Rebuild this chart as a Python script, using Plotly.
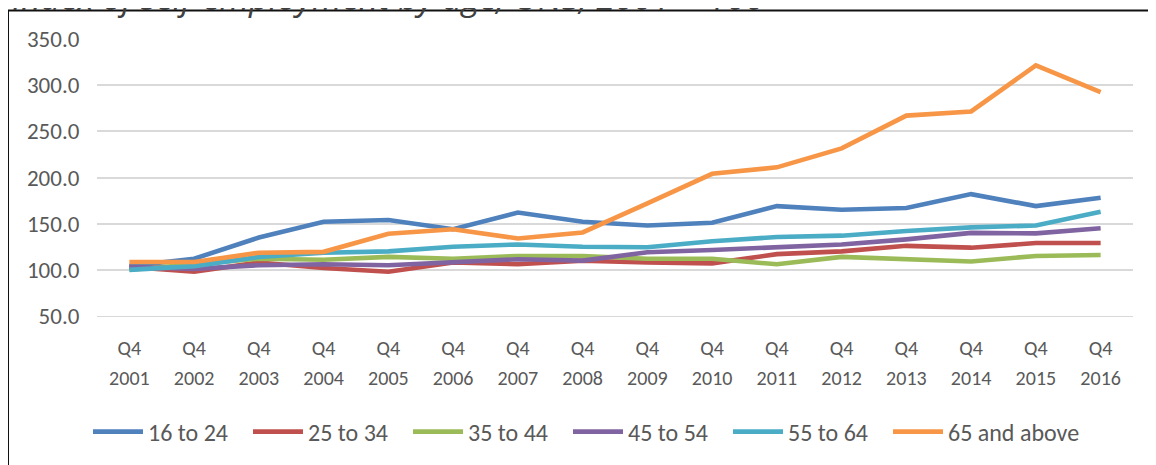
import plotly.graph_objects as go

# index of self-employment by age group, Q4 each year, 2001 = 100
quarters = ["Q4"] * 16
years = ["2001", "2002", "2003", "2004", "2005", "2006", "2007", "2008",
         "2009", "2010", "2011", "2012", "2013", "2014", "2015", "2016"]

age_16_24 = [104, 112, 135, 152, 154, 144, 162, 152, 148, 151, 169, 165, 167, 182, 169, 178]
age_25_34 = [103, 98, 108, 102, 98, 108, 106, 110, 108, 107, 117, 120, 126, 124, 129, 129]
age_35_44 = [100, 106, 112, 111, 114, 112, 115, 115, 112, 112, 106, 114, 111, 109, 115, 116]
age_45_54 = [103, 101, 105, 106, 105, 108, 111.5, 110, 119, 121.5, 125, 127.5, 133, 140, 139.5, 145]
age_55_64 = [100, 104, 114, 118.5, 120, 125, 127.5, 125, 124.5, 131, 135.5, 137, 142, 146, 148, 163]
age_65_up = [108.5, 108.5, 118.5, 119.5, 139, 144, 134, 140.5, 172, 204, 211, 231.5, 267, 271.5, 321.5, 292.5]

series = [
    ("16 to 24", age_16_24, "#4F81BD"),
    ("25 to 34", age_25_34, "#C0504D"),
    ("35 to 44", age_35_44, "#9BBB59"),
    ("45 to 54", age_45_54, "#8064A2"),
    ("55 to 64", age_55_64, "#4BACC6"),
    ("65 and above", age_65_up, "#F79646"),
]

W, H = 1156, 465
OFF = 8  # page body margin, the figure sits 8px in from the corner
ml, mt = 89, 31
pw, ph = 1036, 277
mr, mb = W - ml - pw, H - mt - ph


# page pixel position -> paper coordinates (for title, legend, frame)
def px_x(x):
    return (x - OFF - ml) / pw


def px_y(y):
    return (H - mb - (y - OFF)) / ph


idx = list(range(len(years)))
font = "Calibri, Carlito, Lato, sans-serif"
grey = "#595959"

fig = go.Figure()
for i, (name, vals, col) in enumerate(series):
    # last entry goes in a second legend so its longer label is not clipped
    fig.add_trace(go.Scatter(x=idx, y=vals, name=name, mode="lines",
                             line=dict(color=col, width=4.6),
                             legend="legend2" if i == len(series) - 1 else "legend"))
# invisible trace so the second (year) axis gets drawn
fig.add_trace(go.Scatter(x=idx, y=[None] * len(idx), xaxis="x2",
                         showlegend=False, hoverinfo="skip"))

legend_common = dict(orientation="h", yanchor="middle", y=px_y(432), xanchor="left",
                     font=dict(size=24, color=grey), itemwidth=50,
                     bgcolor="rgba(0,0,0,0)")

fig.update_layout(
    width=W, height=H,
    margin=dict(l=ml, r=mr, t=mt, b=mb),
    paper_bgcolor="white", plot_bgcolor="white",
    font=dict(family=font, color=grey, size=20),
    xaxis=dict(range=[-0.5, 15.5], tickvals=idx, ticktext=quarters,
               showgrid=False, zeroline=False, showline=True, linecolor="#D9D9D9",
               linewidth=1.3,
               ticks="outside", ticklen=14, tickcolor="rgba(0,0,0,0)",
               tickfont=dict(size=20)),
    xaxis2=dict(range=[-0.5, 15.5], tickvals=idx, ticktext=years,
                overlaying="x", side="bottom", anchor="y",
                showgrid=False, zeroline=False, showline=False,
                ticks="outside", ticklen=44, tickcolor="rgba(0,0,0,0)",
                tickfont=dict(size=20)),
    yaxis=dict(range=[50, 350], dtick=50, tickformat=".1f",
               showgrid=True, gridcolor="#D9D9D9", gridwidth=1.5, zeroline=False,
               ticks="outside", ticklen=12, tickcolor="rgba(0,0,0,0)",
               tickfont=dict(size=23)),
    legend=dict(x=px_x(88), entrywidth=95, entrywidthmode="pixels", **legend_common),
    legend2=dict(x=px_x(888), **legend_common),
    showlegend=True,
)

# chart frame, partly off the page like the source screenshot
fig.add_shape(type="rect", xref="paper", yref="paper",
              x0=px_x(8), x1=px_x(1180), y0=px_y(490), y1=px_y(10.5),
              line=dict(color="#111111", width=2), fillcolor="rgba(0,0,0,0)", layer="below")

# title, cut off at the top edge
fig.add_annotation(text="<i>Index of self-employment by age, ONS, 2001 = 100</i>",
                   xref="paper", yref="paper", x=px_x(10), y=px_y(-3),
                   xanchor="left", yanchor="middle", showarrow=False,
                   font=dict(family="Open Sans, sans-serif", size=34, color="#404040"))

fig.write_html("out.html")
